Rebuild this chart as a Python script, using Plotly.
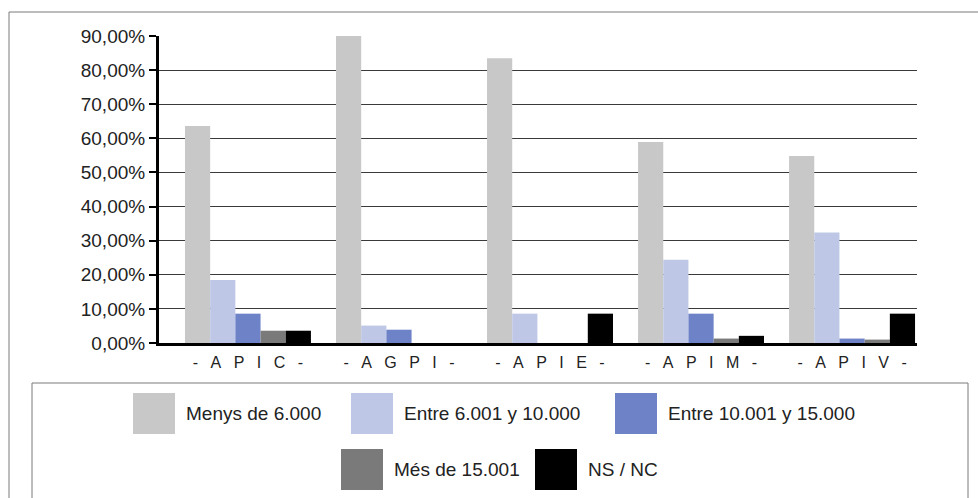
import plotly.graph_objects as go

# ---- data ----
categories = ["APIC", "AGPI", "APIE", "APIM", "APIV"]
series_names = ["Menys de 6.000", "Entre 6.001 y 10.000", "Entre 10.001 y 15.000",
                "Més de 15.001", "NS / NC"]
menys_6000 = [63.6, 90.0, 83.5, 58.9, 54.8]
entre_6001_10000 = [18.5, 5.1, 8.6, 24.4, 32.4]
entre_10001_15000 = [8.6, 3.9, 0.0, 8.6, 1.3]
mes_15001 = [3.6, 0.0, 0.0, 1.3, 1.0]
ns_nc = [3.6, 0.0, 8.6, 2.1, 8.6]
series_values = [menys_6000, entre_6001_10000, entre_10001_15000, mes_15001, ns_nc]
y_tick_values = [0, 10, 20, 30, 40, 50, 60, 70, 80, 90]
y_tick_labels = ["0,00%", "10,00%", "20,00%", "30,00%", "40,00%", "50,00%",
                 "60,00%", "70,00%", "80,00%", "90,00%"]

# ---- style ----
colors = ["#C8C8C8", "#BEC8E6", "#6E82C8", "#7A7A7A", "#000000"]
FONT = "Liberation Sans"
SEP = "\u2002\u00a0"
x_tick_labels = ["-" + SEP + SEP.join(list(c)) + SEP + "-" for c in categories]

L, T, W, H = 159, 36, 758, 307


def px(x):
    return (x - L) / W


def py(y):
    return (T + H - y) / H


fig = go.Figure()
for name, vals, col in zip(series_names, series_values, colors):
    fig.add_trace(go.Bar(x=list(range(len(categories))), y=vals, name=name,
                         marker=dict(color=col, line=dict(width=0)),
                         showlegend=False))

shapes = []
# outer frame
shapes.append(dict(type="rect", xref="paper", yref="paper",
                   x0=px(9), x1=px(990), y0=py(510), y1=py(12),
                   line=dict(color="#7a7a7a", width=1), fillcolor="rgba(0,0,0,0)",
                   layer="below"))
# legend frame
shapes.append(dict(type="rect", xref="paper", yref="paper",
                   x0=px(32), x1=px(968), y0=py(510), y1=py(383),
                   line=dict(color="#7a7a7a", width=1), fillcolor="rgba(0,0,0,0)",
                   layer="below"))

# legend entries (swatch left x, swatch top y)
legend_pos = [(133, 393), (351, 393), (615, 393), (341, 449), (535, 449)]
annotations = []
for name, col, (lx, ly) in zip(series_names, colors, legend_pos):
    shapes.append(dict(type="rect", xref="paper", yref="paper",
                       x0=px(lx), x1=px(lx + 42), y0=py(ly + 41), y1=py(ly),
                       line=dict(width=0), fillcolor=col))
    annotations.append(dict(xref="paper", yref="paper", x=px(lx + 51), y=py(ly + 20.5),
                            text=name, showarrow=False, xanchor="left", yanchor="middle",
                            font=dict(family=FONT, size=19, color="#222222")))

fig.update_layout(
    width=978, height=498,
    margin=dict(l=L, r=978 - L - W, t=T, b=498 - T - H),
    paper_bgcolor="white", plot_bgcolor="white",
    barmode="group", bargap=0.166, bargroupgap=0,
    shapes=shapes, annotations=annotations,
    showlegend=False,
    xaxis=dict(range=[-0.589, 4.43], tickvals=list(range(len(categories))),
               ticktext=x_tick_labels, showgrid=False, zeroline=False,
               showline=True, linecolor="black", linewidth=3, ticks="",
               ticklabelstandoff=3,
               tickfont=dict(family=FONT, size=16, color="#222222")),
    yaxis=dict(range=[0, 90], tickvals=y_tick_values, ticktext=y_tick_labels,
               showgrid=True, gridcolor="#3a3a3a", gridwidth=1, zeroline=False,
               showline=True, linecolor="black", linewidth=3,
               ticks="outside", ticklen=7, tickwidth=2, tickcolor="black",
               tickfont=dict(family=FONT, size=19, color="#222222")),
)

fig.write_html("out.html", config={"displayModeBar": False},
               post_script="document.body.style.margin='0';document.body.style.overflow='hidden';")
